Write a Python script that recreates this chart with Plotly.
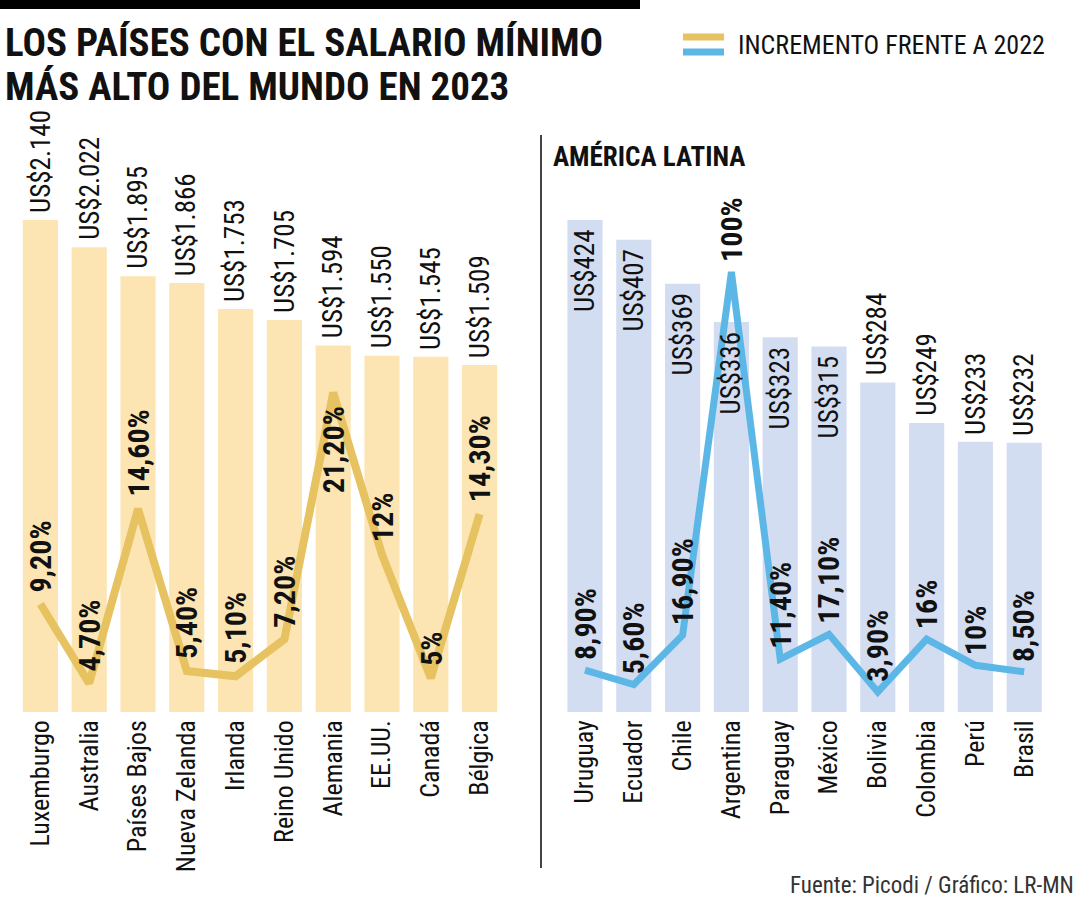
import plotly.graph_objects as go

# ---------------- data ----------------
world_countries = ["Luxemburgo", "Australia", "Países Bajos", "Nueva Zelanda", "Irlanda",
                   "Reino Unido", "Alemania", "EE.UU.", "Canadá", "Bélgica"]
world_wage = [2140, 2022, 1895, 1866, 1753, 1705, 1594, 1550, 1545, 1509]
world_increase = [9.2, 4.7, 14.6, 5.4, 5.1, 7.2, 21.2, 12, 5, 14.3]

latam_countries = ["Uruguay", "Ecuador", "Chile", "Argentina", "Paraguay",
                   "México", "Bolivia", "Colombia", "Perú", "Brasil"]
latam_wage = [424, 407, 369, 336, 323, 315, 284, 249, 233, 232]
latam_increase = [8.9, 5.6, 16.9, 100, 11.4, 17.1, 3.9, 16, 10, 8.5]


def wage_label(v):
    return "US$" + f"{v:,}".replace(",", ".")


def pct_label(v):
    if float(v).is_integer():
        return f"{int(v)}%"
    return f"{v:.2f}".replace(".", ",") + "%"


# ---------------- style ----------------
W, H = 1080, 900
FONT = "Liberation Sans Narrow, Roboto Condensed, DejaVu Sans Condensed, Arial Narrow, sans-serif"
BAR_WORLD = "#FCE5B3"
BAR_LATAM = "#D3DDF1"
LINE_WORLD = "#E6C260"
LINE_LATAM = "#5CB7E6"
TXT = "#111111"


def px_x(p):
    return p / W


def px_y(p):
    return 1 - p / H


fig = go.Figure()

fig.add_trace(go.Bar(
    x=world_countries, y=world_wage, xaxis="x", yaxis="y",
    marker=dict(color=BAR_WORLD, line=dict(width=0)),
    showlegend=False, hoverinfo="skip"))

fig.add_trace(go.Scatter(
    x=world_countries, y=world_increase, xaxis="x", yaxis="y2",
    mode="lines", line=dict(color=LINE_WORLD, width=8),
    showlegend=False, hoverinfo="skip", cliponaxis=False))

fig.add_trace(go.Bar(
    x=latam_countries, y=latam_wage, xaxis="x2", yaxis="y3",
    marker=dict(color=BAR_LATAM, line=dict(width=0)),
    showlegend=False, hoverinfo="skip"))

fig.add_trace(go.Scatter(
    x=latam_countries, y=latam_increase, xaxis="x2", yaxis="y4",
    mode="lines", line=dict(color=LINE_LATAM, width=7),
    showlegend=False, hoverinfo="skip", cliponaxis=False))

annotations = []
WAGE_FONT = dict(family=FONT, size=27, color=TXT)
PCT_FONT = dict(family=FONT, size=30, color=TXT)

# wage labels: world above bars, latam inside top for the taller bars
for c, v in zip(world_countries, world_wage):
    annotations.append(dict(x=c, y=v, xref="x", yref="y", text=wage_label(v), textangle=-90,
                            showarrow=False, yanchor="bottom", yshift=5, font=WAGE_FONT))
for c, v in zip(latam_countries, latam_wage):
    inside = v >= 300
    annotations.append(dict(x=c, y=v, xref="x2", yref="y3", text=wage_label(v), textangle=-90,
                            showarrow=False, yanchor="top" if inside else "bottom",
                            yshift=-8 if inside else 5, font=WAGE_FONT))

# percentage labels
for c, v in zip(world_countries, world_increase):
    below = (v == max(world_increase))
    annotations.append(dict(x=c, y=v, xref="x", yref="y2", text="<b>" + pct_label(v) + "</b>",
                            textangle=-90, showarrow=False,
                            yanchor="top" if below else "bottom", yshift=-12 if below else 10,
                            font=PCT_FONT))
for c, v in zip(latam_countries, latam_increase):
    annotations.append(dict(x=c, y=v, xref="x2", yref="y4", text="<b>" + pct_label(v) + "</b>",
                            textangle=-90, showarrow=False, yanchor="bottom", yshift=8,
                            font=PCT_FONT))

# titles / legend / source
annotations += [
    dict(x=px_x(3), y=px_y(43), xref="paper", yref="paper", xanchor="left", yanchor="middle",
         text="<b>LOS PAÍSES CON EL SALARIO MÍNIMO</b>", showarrow=False,
         font=dict(family=FONT, size=39, color=TXT)),
    dict(x=px_x(3), y=px_y(87), xref="paper", yref="paper", xanchor="left", yanchor="middle",
         text="<b>MÁS ALTO DEL MUNDO EN 2023</b>", showarrow=False,
         font=dict(family=FONT, size=39, color=TXT)),
    dict(x=px_x(736), y=px_y(45), xref="paper", yref="paper", xanchor="left", yanchor="middle",
         text="INCREMENTO FRENTE A 2022", showarrow=False,
         font=dict(family=FONT, size=26, color=TXT)),
    dict(x=px_x(551), y=px_y(157), xref="paper", yref="paper", xanchor="left", yanchor="middle",
         text="<b>AMÉRICA LATINA</b>", showarrow=False,
         font=dict(family=FONT, size=27, color=TXT)),
    dict(x=px_x(1076), y=px_y(885), xref="paper", yref="paper", xanchor="right", yanchor="middle",
         text="Fuente: Picodi / Gráfico: LR-MN", showarrow=False,
         font=dict(family=FONT, size=23, color="#333333")),
]

shapes = [
    dict(type="rect", xref="paper", yref="paper", x0=0, x1=px_x(640), y0=px_y(0), y1=px_y(9),
         fillcolor="#000000", line=dict(width=0)),
    dict(type="line", xref="paper", yref="paper", x0=px_x(541), x1=px_x(541), y0=px_y(135), y1=px_y(868),
         line=dict(color="#444444", width=2)),
    dict(type="line", xref="paper", yref="paper", x0=px_x(683), x1=px_x(724), y0=px_y(37), y1=px_y(37),
         line=dict(color=LINE_WORLD, width=7)),
    dict(type="line", xref="paper", yref="paper", x0=px_x(683), x1=px_x(724), y0=px_y(52), y1=px_y(52),
         line=dict(color=LINE_LATAM, width=7)),
]

ydom = [px_y(712), px_y(220)]
xaxis_common = dict(tickangle=-90, showline=False, ticks="", showgrid=False, zeroline=False,
                    automargin=False, ticklabelstandoff=2,
                    tickfont=dict(family=FONT, size=26, color=TXT))
yaxis_common = dict(visible=False, showgrid=False, zeroline=False, fixedrange=True)

fig.update_layout(
    width=W, height=H,
    margin=dict(l=0, r=0, t=0, b=0),
    paper_bgcolor="white", plot_bgcolor="white",
    bargap=0.28,
    xaxis=dict(domain=[px_x(16), px_x(504)], anchor="y", **xaxis_common),
    yaxis=dict(domain=ydom, range=[0, 2140], anchor="x", **yaxis_common),
    yaxis2=dict(overlaying="y", range=[3.07, 31.0], anchor="x", **yaxis_common),
    xaxis2=dict(domain=[px_x(560.6), px_x(1048.6)], anchor="y3", **xaxis_common),
    yaxis3=dict(domain=ydom, range=[0, 424], anchor="x2", **yaxis_common),
    yaxis4=dict(overlaying="y3", range=[-0.69, 111.9], anchor="x2", **yaxis_common),
    annotations=annotations,
    shapes=shapes,
)

fig.write_html("out.html", config={"displayModeBar": False},
               post_script="document.body.style.margin='0';document.body.style.overflow='hidden';")
